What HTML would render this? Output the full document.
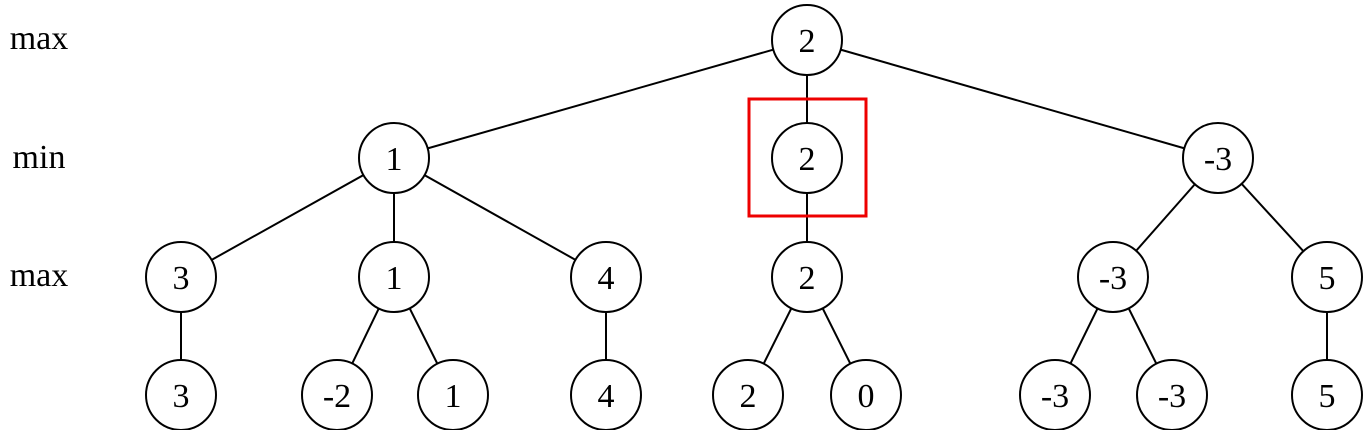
<!DOCTYPE html>
<html><head><meta charset="utf-8"><style>
html,body{margin:0;padding:0;background:#fff;}
svg{display:block;}
text{font-family:"Liberation Serif",serif;font-size:34px;fill:#000;}
</style></head><body>
<svg width="1363" height="430" viewBox="0 0 1363 430" xmlns="http://www.w3.org/2000/svg">
<g stroke="#000" stroke-width="2">
<line x1="807" y1="40" x2="394" y2="158"/>
<line x1="807" y1="40" x2="807" y2="158"/>
<line x1="807" y1="40" x2="1218" y2="158"/>
<line x1="394" y1="158" x2="181" y2="277"/>
<line x1="394" y1="158" x2="394" y2="277"/>
<line x1="394" y1="158" x2="606" y2="277"/>
<line x1="807" y1="158" x2="807" y2="277"/>
<line x1="1218" y1="158" x2="1113" y2="277"/>
<line x1="1218" y1="158" x2="1327" y2="277"/>
<line x1="181" y1="277" x2="181" y2="395"/>
<line x1="394" y1="277" x2="337" y2="395"/>
<line x1="394" y1="277" x2="453" y2="395"/>
<line x1="606" y1="277" x2="606" y2="395"/>
<line x1="807" y1="277" x2="748" y2="395"/>
<line x1="807" y1="277" x2="866" y2="395"/>
<line x1="1113" y1="277" x2="1055" y2="395"/>
<line x1="1113" y1="277" x2="1172" y2="395"/>
<line x1="1327" y1="277" x2="1327" y2="395"/>
</g>
<g fill="#fff" stroke="#000" stroke-width="2">
<circle cx="807" cy="40" r="35"/>
<circle cx="394" cy="158" r="35"/><circle cx="807" cy="158" r="35"/><circle cx="1218" cy="158" r="35"/>
<circle cx="181" cy="277" r="35"/><circle cx="394" cy="277" r="35"/><circle cx="606" cy="277" r="35"/><circle cx="807" cy="277" r="35"/><circle cx="1113" cy="277" r="35"/><circle cx="1327" cy="277" r="35"/>
<circle cx="181" cy="395" r="35"/><circle cx="337" cy="395" r="35"/><circle cx="453" cy="395" r="35"/><circle cx="606" cy="395" r="35"/><circle cx="748" cy="395" r="35"/><circle cx="866" cy="395" r="35"/><circle cx="1055" cy="395" r="35"/><circle cx="1172" cy="395" r="35"/><circle cx="1327" cy="395" r="35"/>
</g>
<rect x="749" y="99" width="117" height="117" fill="none" stroke="#e00" stroke-width="3"/>
<g text-anchor="middle">
<text x="807" y="52">2</text>
<text x="394" y="170">1</text><text x="807" y="170">2</text><text x="1218" y="170">-3</text>
<text x="181" y="289">3</text><text x="394" y="289">1</text><text x="606" y="289">4</text><text x="807" y="289">2</text><text x="1113" y="289">-3</text><text x="1327" y="289">5</text>
<text x="181" y="407">3</text><text x="337" y="407">-2</text><text x="453" y="407">1</text><text x="606" y="407">4</text><text x="748" y="407">2</text><text x="866" y="407">0</text><text x="1055" y="407">-3</text><text x="1172" y="407">-3</text><text x="1327" y="407">5</text>
<text x="39" y="49">max</text>
<text x="39" y="168">min</text>
<text x="39" y="286">max</text>
</g>
</svg>
</body></html>
